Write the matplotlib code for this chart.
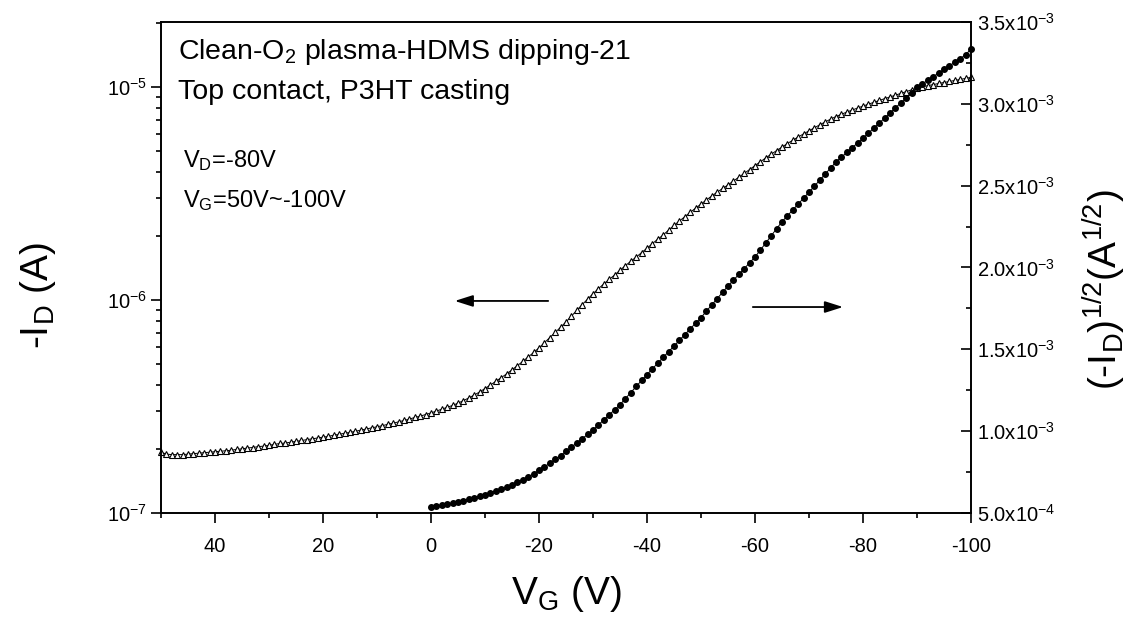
import numpy as np
import matplotlib
matplotlib.use("Agg")
import matplotlib.pyplot as plt
from matplotlib.ticker import MultipleLocator, LogLocator, LogFormatterMathtext, FixedLocator

plt.rcParams["font.family"] = ["Liberation Sans", "DejaVu Sans"]
plt.rcParams["mathtext.fontset"] = "custom"
plt.rcParams["mathtext.rm"] = "Liberation Sans"
plt.rcParams["mathtext.it"] = "Liberation Sans:italic"
plt.rcParams["mathtext.bf"] = "Liberation Sans:bold"
plt.rcParams["axes.unicode_minus"] = False

# gate sweep, 1 V steps from +50 V down to -100 V
VG = np.arange(50, -101, -1)

# -I_D in units of 1e-7 A, one value per gate step (50 ... -100)
ID_E7 = [
    1.93, 1.89, 1.88, 1.88, 1.88, 1.89, 1.90, 1.91, 1.92, 1.93,   # 50..41
    1.94, 1.95, 1.96, 1.97, 1.99, 2.00, 2.02, 2.03, 2.05, 2.06,   # 40..31
    2.08, 2.10, 2.12, 2.13, 2.15, 2.17, 2.19, 2.21, 2.23, 2.25,   # 30..21
    2.27, 2.29, 2.32, 2.34, 2.37, 2.39, 2.42, 2.45, 2.48, 2.51,   # 20..11
    2.54, 2.57, 2.61, 2.64, 2.68, 2.72, 2.76, 2.81, 2.85, 2.90,   # 10..1
    2.95, 3.01, 3.07, 3.13, 3.20, 3.28, 3.37, 3.47, 3.58, 3.70,   # 0..-9
    3.84, 3.99, 4.15, 4.32, 4.50, 4.70, 4.92, 5.15, 5.40, 5.67,   # -10..-19
    5.96, 6.30, 6.66, 7.04, 7.45, 7.89, 8.40, 8.95, 9.52, 10.1,   # -20..-29
    10.7, 11.3, 11.9, 12.5, 13.1, 13.8, 14.5, 15.2, 15.9, 16.7,   # -30..-39
    17.5, 18.4, 19.3, 20.2, 21.3, 22.4, 23.5, 24.6, 25.8, 27.0,   # -40..-49
    28.2, 29.5, 30.8, 32.1, 33.4, 34.7, 36.2, 37.7, 39.3, 41.0,   # -50..-59
    42.8, 44.6, 46.5, 48.4, 50.3, 52.3, 54.3, 56.3, 58.3, 60.3,   # -60..-69
    62.3, 64.4, 66.5, 68.6, 70.7, 72.7, 74.5, 76.3, 78.0, 79.7,   # -70..-79
    81.4, 83.1, 84.8, 86.5, 88.2, 89.8, 91.6, 93.4, 95.2, 97.0,   # -80..-89
    98.9, 100.2, 101.5, 102.7, 103.9, 105.0, 106.2, 107.4, 108.6, 109.8,  # -90..-99
    111.0,                                                        # -100
]

# (-I_D)^1/2 in units of 1e-3 A^1/2, gate 0 ... -100 V
VG_SQ = np.arange(0, -101, -1)
SQRT_E3 = [
    0.537, 0.541, 0.547, 0.553, 0.560, 0.568, 0.576, 0.585, 0.594, 0.603,  # 0..-9
    0.613, 0.624, 0.635, 0.646, 0.658, 0.671, 0.687, 0.704, 0.721, 0.740,  # -10..-19
    0.760, 0.782, 0.804, 0.827, 0.851, 0.878, 0.903, 0.928, 0.954, 0.980,  # -20..-29
    1.007, 1.038, 1.069, 1.100, 1.131, 1.162, 1.199, 1.236, 1.273, 1.310,  # -30..-39
    1.346, 1.381, 1.416, 1.451, 1.486, 1.520, 1.555, 1.590, 1.625, 1.660,  # -40..-49
    1.694, 1.733, 1.772, 1.810, 1.849, 1.887, 1.922, 1.958, 1.993, 2.029,  # -50..-59
    2.064, 2.107, 2.150, 2.194, 2.237, 2.280, 2.316, 2.352, 2.388, 2.424,  # -60..-69
    2.460, 2.497, 2.534, 2.571, 2.608, 2.645, 2.674, 2.703, 2.732, 2.761,  # -70..-79
    2.790, 2.821, 2.852, 2.882, 2.913, 2.944, 2.975, 3.006, 3.037, 3.068,  # -80..-89
    3.100, 3.122, 3.144, 3.166, 3.188, 3.210, 3.232, 3.254, 3.276, 3.300,  # -90..-99
    3.335,                                                                 # -100
]

RIGHT_TICKS = [0.5e-3, 1.0e-3, 1.5e-3, 2.0e-3, 2.5e-3, 3.0e-3, 3.5e-3]
RIGHT_LABELS = ["5.0x10$^{-4}$", "1.0x10$^{-3}$", "1.5x10$^{-3}$", "2.0x10$^{-3}$",
                "2.5x10$^{-3}$", "3.0x10$^{-3}$", "3.5x10$^{-3}$"]

ids = np.array(ID_E7) * 1e-7
sq = np.array(SQRT_E3) * 1e-3

fig = plt.figure(figsize=(11.4, 6.22), dpi=100)
ax = fig.add_axes([161 / 1140, 1 - 513 / 622, 810 / 1140, 491 / 622])
ax2 = ax.twinx()

ax.plot(VG, ids, "-", color="black", lw=0.7, marker="^", ms=4.2,
        mfc="white", mec="black", mew=0.8, clip_on=False)
ax2.plot(VG_SQ, sq, "-", color="black", lw=0.7, marker="o", ms=4.0,
         mfc="black", mec="black", clip_on=False)

ax.set_xlim(50, -100)
ax.set_yscale("log")
ax.set_ylim(1e-7, 2.02e-5)
ax2.set_ylim(5e-4, 3.5e-3)

ax.xaxis.set_major_locator(MultipleLocator(20))
ax.xaxis.set_minor_locator(FixedLocator(np.arange(50, -101, -10)))
ax.yaxis.set_major_locator(LogLocator(base=10, numticks=10))
ax.yaxis.set_minor_locator(LogLocator(base=10, subs=np.arange(2, 10), numticks=20))
ax.yaxis.set_major_formatter(LogFormatterMathtext())
ax2.yaxis.set_major_locator(FixedLocator(RIGHT_TICKS))
ax2.set_yticklabels(RIGHT_LABELS)
ax2.yaxis.set_minor_locator(MultipleLocator(0.25e-3))

for a in (ax, ax2):
    for s in a.spines.values():
        s.set_linewidth(1.2)
    a.tick_params(which="major", direction="out", length=7, width=1.2, labelsize=14.5)
    a.tick_params(which="minor", direction="out", length=3.5, width=1.2)
ax.tick_params(axis="x", which="both", top=False, pad=10)
ax.tick_params(axis="y", which="both", right=False, pad=3)
# right-hand scale has its ticks pointing into the plot
ax2.tick_params(axis="y", which="both", left=False, direction="in", pad=4)

ax.set_xlabel("V$_\\mathrm{G}$ (V)", fontsize=28)
ax.xaxis.set_label_coords(0.5, -0.124)
ax.set_ylabel("-I$_\\mathrm{D}$ (A)", fontsize=28)
ax.yaxis.set_label_coords(-0.127, 0.442)
ax2.set_ylabel("(-I$_\\mathrm{D}$)$^{1/2}$(A$^{1/2}$)", fontsize=28)
ax2.yaxis.set_label_coords(1.136, 0.454)

ax.text(0.021, 0.925, "Clean-O$_2$ plasma-HDMS dipping-21", transform=ax.transAxes,
        fontsize=20.5, va="baseline", ha="left")
ax.text(0.021, 0.843, "Top contact, P3HT casting", transform=ax.transAxes,
        fontsize=20.5, va="baseline", ha="left")
ax.text(0.027, 0.705, "V$_\\mathrm{D}$=-80V", transform=ax.transAxes,
        fontsize=17, va="baseline", ha="left")
ax.text(0.027, 0.624, "V$_\\mathrm{G}$=50V~-100V", transform=ax.transAxes,
        fontsize=17, va="baseline", ha="left")

# direction arrows pointing to the axis each curve belongs to
ax.annotate("", xy=(-4.4, 9.9e-7), xytext=(-21.7, 9.9e-7),
            arrowprops=dict(arrowstyle="-|>,head_length=1.1,head_width=0.35",
                            color="black", lw=1.3, shrinkA=0, shrinkB=0))
ax.annotate("", xy=(-76.3, 9.27e-7), xytext=(-59.6, 9.27e-7),
            arrowprops=dict(arrowstyle="-|>,head_length=1.1,head_width=0.35",
                            color="black", lw=1.3, shrinkA=0, shrinkB=0))

fig.savefig("out.png", dpi=100)
